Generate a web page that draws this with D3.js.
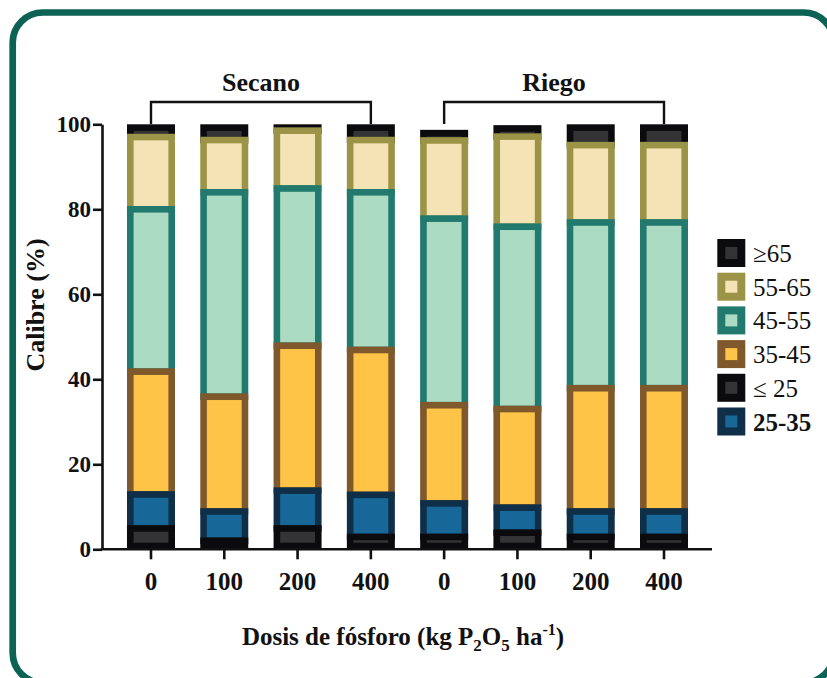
<!DOCTYPE html>
<html>
<head>
<meta charset="utf-8">
<script src="https://cdn.jsdelivr.net/npm/d3@7"></script>
</head>
<body style="margin:0;padding:0;background:#ffffff">
<svg id="chart" width="827" height="678" style="display:block"></svg>
<script>
// ---- data ----
const categories = ["0", "100", "200", "400", "0", "100", "200", "400"];
const groups = ["Secano", "Riego"];
const seriesNames = ["≤ 25", "25-35", "35-45", "45-55", "55-65", "≥65"]; // bottom -> top
const le25   = [4.9, 2.0, 4.9, 2.9, 2.9, 3.9, 2.9, 2.9];
const s25_35 = [8.0, 6.9, 8.9, 9.9, 7.9, 5.9, 6.0, 6.0];
const s35_45 = [28.9, 27.0, 34.1, 34.1, 23.1, 23.2, 29.0, 29.0];
const s45_55 = [38.2, 48.1, 37.0, 37.1, 43.9, 42.9, 39.0, 39.0];
const s55_65 = [17.0, 12.3, 13.6, 12.3, 18.4, 21.2, 18.2, 18.2];
const ge65   = [3.0, 3.7, 1.5, 3.7, 2.5, 2.7, 4.9, 4.9];
const yTicks = [0, 20, 40, 60, 80, 100];
const legendOrder = ["≥65", "55-65", "45-55", "35-45", "≤ 25", "25-35"];

const seriesValues = [le25, s25_35, s35_45, s45_55, s55_65, ge65];
const strokeCol = {"≤ 25":"#0b0b0d","25-35":"#0f2f48","35-45":"#7f592b","45-55":"#227a6f","55-65":"#9b9447","≥65":"#0b0b0d"};
const fillCol   = {"≤ 25":"#343437","25-35":"#176898","35-45":"#fdc448","45-55":"#acdbc3","55-65":"#f4e3b5","≥65":"#343437"};

const FONT = "Liberation Serif";
const svg = d3.select("#chart");

// frame
svg.append("rect")
  .attr("x", 12.7).attr("y", 12.5)
  .attr("width", 821).attr("height", 670.5)
  .attr("rx", 30).attr("ry", 30)
  .attr("fill", "none").attr("stroke", "#0d6256").attr("stroke-width", 6.7);

// scales
const x = d3.scaleBand().domain(d3.range(categories.length))
  .range([114.35, 700.65]).paddingInner(0.345).paddingOuter(0.1725);
const y = d3.scaleLinear().domain([0, 100]).range([549.3, 124.3]);

// stacked data
const rows = categories.map((c, i) => {
  const r = {idx: i};
  seriesNames.forEach((s, k) => r[s] = seriesValues[k][i]);
  return r;
});
const stack = d3.stack().keys(seriesNames)(rows);

const sw = 6.6;
const barsG = svg.append("g");
stack.slice().reverse().forEach(layer => {
  const key = layer.key;
  const isTop = key === seriesNames[seriesNames.length - 1];
  const isBottom = key === seriesNames[0];
  barsG.append("g").selectAll("rect").data(layer).join("rect")
    .attr("x", d => x(d.data.idx) + sw / 2)
    .attr("width", x.bandwidth() - sw)
    .attr("y", d => y(d[1]) + (isTop ? sw / 2 : 0))
    .attr("height", d => Math.max(0.5, y(d[0]) - y(d[1]) - (isTop ? sw / 2 : 0) - (isBottom ? sw / 2 : 0)))
    .attr("fill", fillCol[key])
    .attr("stroke", strokeCol[key])
    .attr("stroke-width", sw);
});

// y axis
const yAxis = d3.axisLeft(y).tickValues(yTicks).tickSize(9).tickPadding(2).tickSizeOuter(0);
const yg = svg.append("g").attr("transform", "translate(102,0)").call(yAxis);
yg.select(".domain").attr("stroke", "#111").attr("stroke-width", 2.6);
yg.selectAll(".tick line").attr("stroke", "#111").attr("stroke-width", 2.6);
yg.selectAll(".tick text").style("font-family", FONT).style("font-size", "23px")
  .style("font-weight", "bold").attr("fill", "#111");

// x axis
const xAxis = d3.axisBottom(x).tickFormat(i => categories[i]).tickSize(10).tickPadding(13).tickSizeOuter(0);
const xg = svg.append("g").attr("transform", "translate(0,549.3)").call(xAxis);
xg.select(".domain").remove();
xg.selectAll(".tick line").attr("stroke", "#111").attr("stroke-width", 2.6);
xg.selectAll(".tick text").style("font-family", FONT).style("font-size", "25px")
  .style("font-weight", "bold").attr("fill", "#111");
svg.append("line").attr("x1", 100.7).attr("x2", 712).attr("y1", 549.3).attr("y2", 549.3)
  .attr("stroke", "#111").attr("stroke-width", 2.6);

// group brackets
const groupSpans = [[0, 3], [4, 7]];
groupSpans.forEach((sp, g) => {
  const xa = x(sp[0]) + x.bandwidth() / 2;
  const xb = x(sp[1]) + x.bandwidth() / 2;
  const yTop = 102, yBot = 124;
  svg.append("path")
    .attr("d", `M${xa},${yBot}V${yTop}H${xb}V${yBot}`)
    .attr("fill", "none").attr("stroke", "#111").attr("stroke-width", 2.4);
  svg.append("text").attr("x", (xa + xb) / 2).attr("y", 91)
    .attr("text-anchor", "middle").attr("fill", "#111")
    .style("font-family", FONT).style("font-size", "26px").style("font-weight", "bold")
    .text(groups[g]);
});

// y title
svg.append("text")
  .attr("transform", "translate(44,305) rotate(-90)")
  .attr("text-anchor", "middle").attr("fill", "#111")
  .style("font-family", FONT).style("font-size", "26px").style("font-weight", "bold")
  .text("Calibre (%)");

// x title
const xt = svg.append("text").attr("x", 403).attr("y", 645)
  .attr("text-anchor", "middle").attr("fill", "#111")
  .style("font-family", FONT).style("font-size", "25px").style("font-weight", "bold");
xt.append("tspan").text("Dosis de fósforo (kg P");
xt.append("tspan").style("font-size", "17px").attr("dy", 6).text("2");
xt.append("tspan").attr("dy", -6).text("O");
xt.append("tspan").style("font-size", "17px").attr("dy", 6).text("5");
xt.append("tspan").attr("dy", -6).text(" ha");
xt.append("tspan").style("font-size", "16px").attr("dy", -10).text("-1");
xt.append("tspan").attr("dy", 10).text(")");

// legend
const lg = svg.append("g");
const lsq = 28, lsw = 8, lstep = 33.7, ly0 = 239, lx = 717.3;
legendOrder.forEach((name, k) => {
  const yy = ly0 + k * lstep;
  lg.append("rect")
    .attr("x", lx + lsw / 2).attr("y", yy + lsw / 2)
    .attr("width", lsq - lsw).attr("height", lsq - lsw)
    .attr("fill", fillCol[name]).attr("stroke", strokeCol[name]).attr("stroke-width", lsw);
  lg.append("text").attr("x", 753).attr("y", yy + 23).attr("fill", "#111")
    .style("font-family", FONT).style("font-size", "25px")
    .style("font-weight", name === "25-35" ? "bold" : "normal")
    .text(name);
});
</script>
</body>
</html>
